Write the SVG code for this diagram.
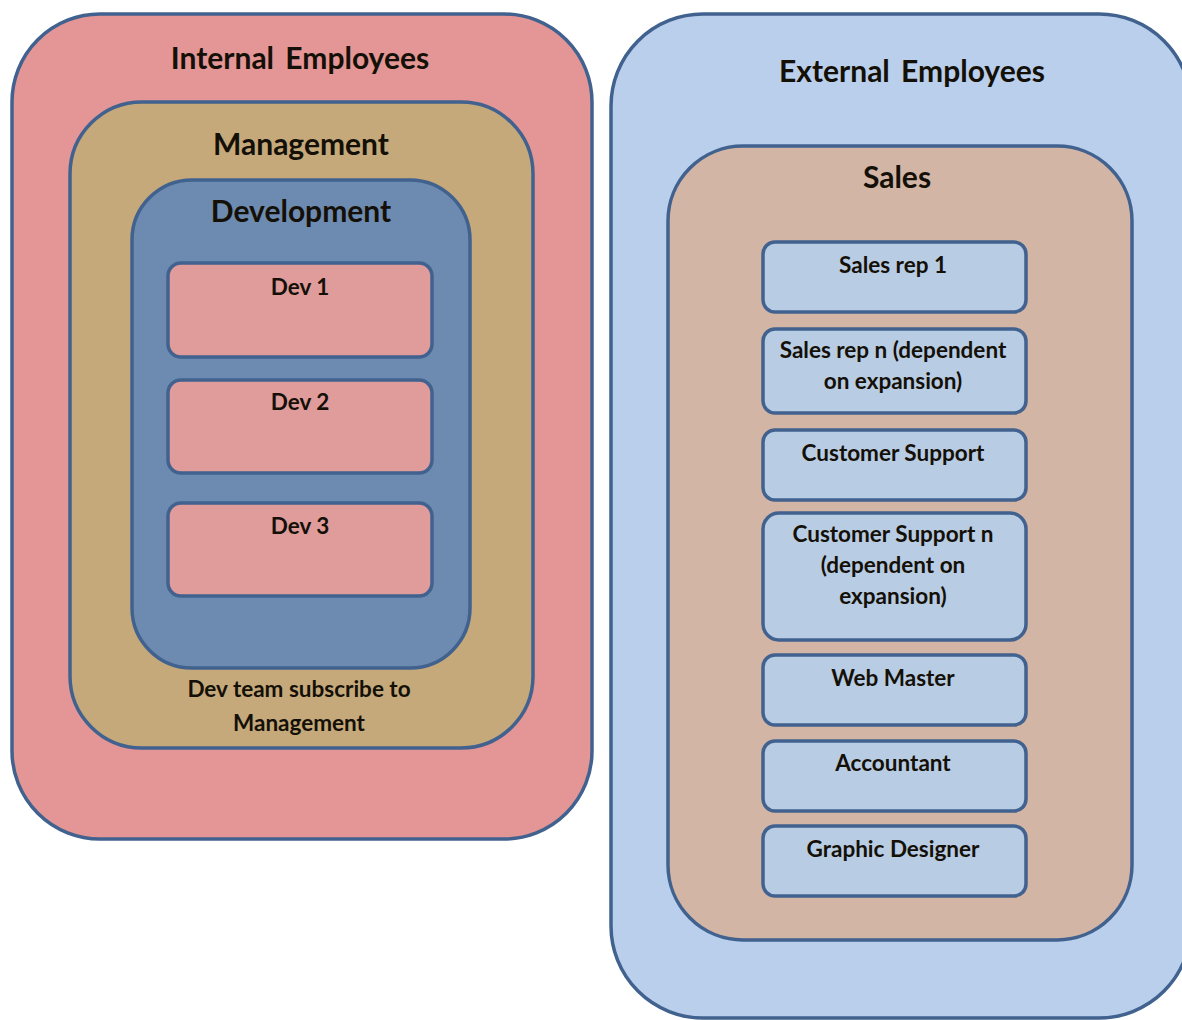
<svg xmlns="http://www.w3.org/2000/svg" width="1182" height="1020" viewBox="0 0 1182 1020">
  <style>
    .box { stroke: #41628f; stroke-width: 3.5; }
    .t { font-family: Lato, "Open Sans", "Liberation Sans", sans-serif; font-weight: bold; fill: #141008; text-anchor: middle; }
    .h1 { font-size: 30px; word-spacing: 4px; }
    .h2 { font-size: 30px; }
    .s { font-size: 22.5px; }
    .internal { fill: #e49595; }
    .mgmt { fill: #c5a97a; }
    .dev { fill: #6d8bb0; }
    .devbox { fill: #e09b9b; }
    .external { fill: #b9cfec; }
    .sales { fill: #d3b5a6; }
    .role { fill: #b8cce4; }
  </style>
  <rect width="1182" height="1020" fill="#ffffff"/>

  <g id="internal-employees">
    <rect class="box internal" x="12" y="14" width="580" height="825" rx="88" ry="88"/>
    <text class="t h1" x="300" y="69">Internal Employees</text>
  </g>

  <g id="management">
    <rect class="box mgmt" x="70" y="102" width="463" height="646" rx="72" ry="72"/>
    <text class="t h2" x="301" y="155">Management</text>
    <text class="t s" x="299" y="697">Dev team subscribe to</text>
    <text class="t s" x="299" y="731">Management</text>
  </g>

  <g id="development">
    <rect class="box dev" x="132" y="180" width="338" height="488" rx="60" ry="60"/>
    <text class="t h2" x="301" y="222">Development</text>
  </g>

  <g id="dev-1">
    <rect class="box devbox" x="168" y="263" width="264" height="94" rx="13" ry="13"/>
    <text class="t s" x="300" y="295">Dev 1</text>
  </g>
  <g id="dev-2">
    <rect class="box devbox" x="168" y="380" width="264" height="93" rx="13" ry="13"/>
    <text class="t s" x="300" y="410">Dev 2</text>
  </g>
  <g id="dev-3">
    <rect class="box devbox" x="168" y="503" width="264" height="93" rx="13" ry="13"/>
    <text class="t s" x="300" y="534">Dev 3</text>
  </g>

  <g id="external-employees">
    <rect class="box external" x="611" y="14" width="580" height="1004" rx="92" ry="92"/>
    <text class="t h1" x="912" y="82">External Employees</text>
  </g>

  <g id="sales">
    <rect class="box sales" x="668" y="146" width="464" height="794" rx="75" ry="75"/>
    <text class="t h2" x="897" y="188">Sales</text>
  </g>

  <g id="sales-rep-1">
    <rect class="box role" x="763" y="242" width="263" height="70" rx="12" ry="12"/>
    <text class="t s" x="893" y="273">Sales rep 1</text>
  </g>
  <g id="sales-rep-n">
    <rect class="box role" x="763" y="329" width="263" height="84" rx="12" ry="12"/>
    <text class="t s" x="893" y="358">Sales rep n (dependent</text>
    <text class="t s" x="893" y="389">on expansion)</text>
  </g>
  <g id="customer-support">
    <rect class="box role" x="763" y="430" width="263" height="70" rx="12" ry="12"/>
    <text class="t s" x="893" y="461">Customer Support</text>
  </g>
  <g id="customer-support-n">
    <rect class="box role" x="763" y="513" width="263" height="127" rx="16" ry="16"/>
    <text class="t s" x="893" y="542">Customer Support n</text>
    <text class="t s" x="893" y="573">(dependent on</text>
    <text class="t s" x="893" y="604">expansion)</text>
  </g>
  <g id="web-master">
    <rect class="box role" x="763" y="655" width="263" height="70" rx="12" ry="12"/>
    <text class="t s" x="893" y="686">Web Master</text>
  </g>
  <g id="accountant">
    <rect class="box role" x="763" y="741" width="263" height="70" rx="12" ry="12"/>
    <text class="t s" x="893" y="771">Accountant</text>
  </g>
  <g id="graphic-designer">
    <rect class="box role" x="763" y="826" width="263" height="70" rx="12" ry="12"/>
    <text class="t s" x="893" y="857">Graphic Designer</text>
  </g>

  <g id="connectors"></g>
</svg>
